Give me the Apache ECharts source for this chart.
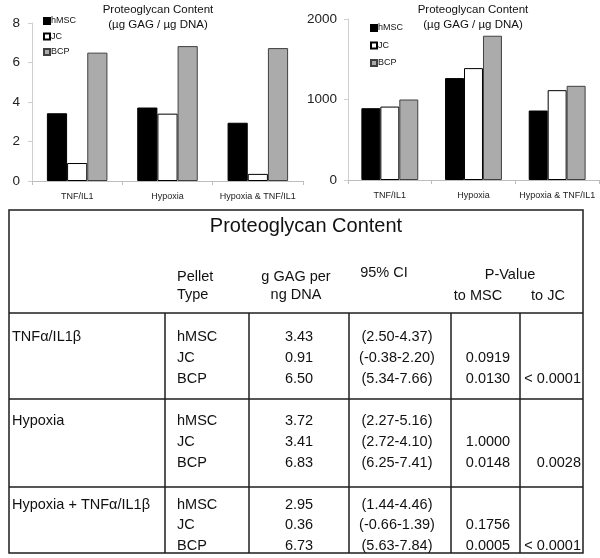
<!DOCTYPE html>
<html>
<head>
<meta charset="utf-8">
<script src="https://cdn.jsdelivr.net/npm/echarts@6/dist/echarts.min.js"></script>
<style>
html,body{margin:0;padding:0;background:#fff;}
#main{width:600px;height:558px;}
</style>
</head>
<body>
<div id="main"></div>
<script>
// ---- data ----
const categories = ['TNF/IL1', 'Hypoxia', 'Hypoxia & TNF/IL1'];
const seriesNames = ['hMSC', 'JC', 'BCP'];
// left chart: µg GAG / µg DNA (ratio)
const hmscRatio = [3.43, 3.72, 2.95];
const jcRatio = [0.91, 3.41, 0.36];
const bcpRatio = [6.50, 6.83, 6.73];
// right chart
const hmscGag = [892, 1266, 863];
const jcGag = [912, 1390, 1116];
const bcpGag = [1000, 1792, 1170];
const leftYMax = 8, leftYInterval = 2;
const rightYMax = 2000, rightYInterval = 1000;
const chartTitleLines = ['Proteoglycan Content', '(µg GAG / µg DNA)'];

// table
const tableTitle = 'Proteoglycan Content';
const headerPellet = ['Pellet', 'Type'];
const headerMean = ['g GAG per', 'ng DNA'];
const headerCI = '95% CI';
const headerP = 'P-Value';
const headerToMsc = 'to MSC';
const headerToJc = 'to JC';
const treatmentLabels = ['TNFα/IL1β', 'Hypoxia', 'Hypoxia + TNFα/IL1β'];
const pelletTypes = ['hMSC', 'JC', 'BCP'];
const ciLower = [[2.50, -0.38, 5.34], [2.27, 2.72, 6.25], [1.44, -0.66, 5.63]];
const ciUpper = [[4.37, 2.20, 7.66], [5.16, 4.10, 7.41], [4.46, 1.39, 7.84]];
const pToMsc = [['', '0.0919', '0.0130'], ['', '1.0000', '0.0148'], ['', '0.1756', '0.0005']];
const pToJc = ['< 0.0001', '0.0028', '< 0.0001'];

// ---- styles ----
const FONT = '"Liberation Sans", Arial, sans-serif';
const barStyles = [
  { color: '#000000', borderColor: '#000000', borderWidth: 1 },
  { color: '#ffffff', borderColor: '#000000', borderWidth: 1 },
  { color: '#ababab', borderColor: '#404040', borderWidth: 1 }
];
const ratioSets = [hmscRatio, jcRatio, bcpRatio];
const gagSets = [hmscGag, jcGag, bcpGag];

function xAxisCfg(gridIndex) {
  return {
    type: 'category', gridIndex: gridIndex, data: categories,
    axisLine: { lineStyle: { color: '#bdbdbd', width: 1 } },
    axisTick: { show: true, length: 4, lineStyle: { color: '#bdbdbd' } },
    axisLabel: { fontSize: 9, color: '#222', fontFamily: FONT, margin: 11, interval: 0 }
  };
}
function yAxisCfg(gridIndex, max, interval, margin) {
  return {
    type: 'value', gridIndex: gridIndex, min: 0, max: max, interval: interval,
    axisLine: { show: true, lineStyle: { color: '#cfcfcf', width: 1 } },
    axisTick: { show: true, length: 4, lineStyle: { color: '#cfcfcf' } },
    splitLine: { show: false },
    axisLabel: { fontSize: 13.5, color: '#222', fontFamily: FONT, margin: margin,
                 formatter: v => String(v) }
  };
}

const series = [];
seriesNames.forEach((n, i) => {
  series.push({
    name: n, type: 'bar', xAxisIndex: 0, yAxisIndex: 0, data: ratioSets[i],
    itemStyle: barStyles[i], barGap: '0%', barCategoryGap: '33%', silent: true,
    animation: false
  });
});
seriesNames.forEach((n, i) => {
  series.push({
    name: n, type: 'bar', xAxisIndex: 1, yAxisIndex: 1, data: gagSets[i],
    itemStyle: barStyles[i], barGap: '0%', barCategoryGap: '32%', silent: true,
    animation: false
  });
});

function legendCfg(left, top, gap) {
  return {
    orient: 'vertical', left: left, top: top, itemWidth: 6, itemHeight: 6, itemGap: gap,
    icon: 'rect', selectedMode: false, padding: 0,
    data: seriesNames,
    textStyle: { fontSize: 9, color: '#111', fontFamily: FONT, lineHeight: 10, padding: [0, 0, 0, -4] }
  };
}

// ---- graphics: chart titles + table ----
const graphics = [];
function txt(text, x, y, size, align, extra) {
  graphics.push(Object.assign({
    type: 'text', silent: true,
    style: { text: text, x: x, y: y, fontSize: size, fontFamily: FONT, fill: '#111',
             textAlign: align, textVerticalAlign: 'middle' }
  }, extra || {}));
}
function line(x1, y1, x2, y2) {
  graphics.push({ type: 'line', silent: true, shape: { x1: x1, y1: y1, x2: x2, y2: y2 },
                  style: { stroke: '#1e1e1e', lineWidth: 1.5 } });
}
chartTitleLines.forEach((t, i) => { txt(t, 158, 10 + i * 15, 11.5, 'center'); });
chartTitleLines.forEach((t, i) => { txt(t, 473, 10 + i * 15, 11.5, 'center'); });

// table geometry
const TL = 9, TR = 583, TT = 210, TB = 553;
const colX = [165, 249, 349, 451, 520];
const rowLines = [313, 399, 487];
graphics.push({ type: 'rect', silent: true, shape: { x: TL, y: TT, width: TR - TL, height: TB - TT },
                style: { fill: 'none', stroke: '#1e1e1e', lineWidth: 1.5 } });
rowLines.forEach(y => line(TL, y, TR, y));
colX.forEach(x => line(x, rowLines[0], x, TB));

txt(tableTitle, 306, 226, 20, 'center');
txt(headerPellet[0], 177, 277, 14.5, 'left');
txt(headerPellet[1], 177, 295, 14.5, 'left');
txt(headerMean[0], 296, 277, 14.5, 'center');
txt(headerMean[1], 296, 295, 14.5, 'center');
txt(headerCI, 384, 273, 14.5, 'center');
txt(headerP, 510, 275, 14.5, 'center');
txt(headerToMsc, 478, 296, 14.5, 'center');
txt(headerToJc, 548, 296, 14.5, 'center');

const groupRowY = [[337, 358, 379], [421, 442, 463], [505, 525, 546]];
treatmentLabels.forEach((lab, g) => {
  const ys = groupRowY[g];
  txt(lab, 12, ys[0], 14.5, 'left');
  pelletTypes.forEach((p, r) => {
    txt(p, 177, ys[r], 14.5, 'left');
    txt(ratioSets[r][g].toFixed(2), 299, ys[r], 14.5, 'center');
    txt('(' + ciLower[g][r].toFixed(2) + '-' + ciUpper[g][r].toFixed(2) + ')', 397, ys[r], 14.5, 'center');
    if (pToMsc[g][r]) txt(pToMsc[g][r], 488, ys[r], 14.5, 'center');
  });
  txt(pToJc[g], 581, ys[2], 14.5, 'right');
});

const option = {
  backgroundColor: '#ffffff',
  animation: false,
  grid: [
    { left: 32, right: 297, top: 23, bottom: 377, containLabel: false },
    { left: 348, right: 1, top: 19, bottom: 378, containLabel: false }
  ],
  xAxis: [xAxisCfg(0), xAxisCfg(1)],
  yAxis: [yAxisCfg(0, leftYMax, leftYInterval, 12), yAxisCfg(1, rightYMax, rightYInterval, 11)],
  legend: [legendCfg(43, 16, 5.5), legendCfg(370, 23, 7.5)],
  series: series,
  graphic: graphics
};

const chart = echarts.init(document.getElementById('main'), null, { renderer: 'canvas' });
chart.setOption(option);
</script>
</body>
</html>
